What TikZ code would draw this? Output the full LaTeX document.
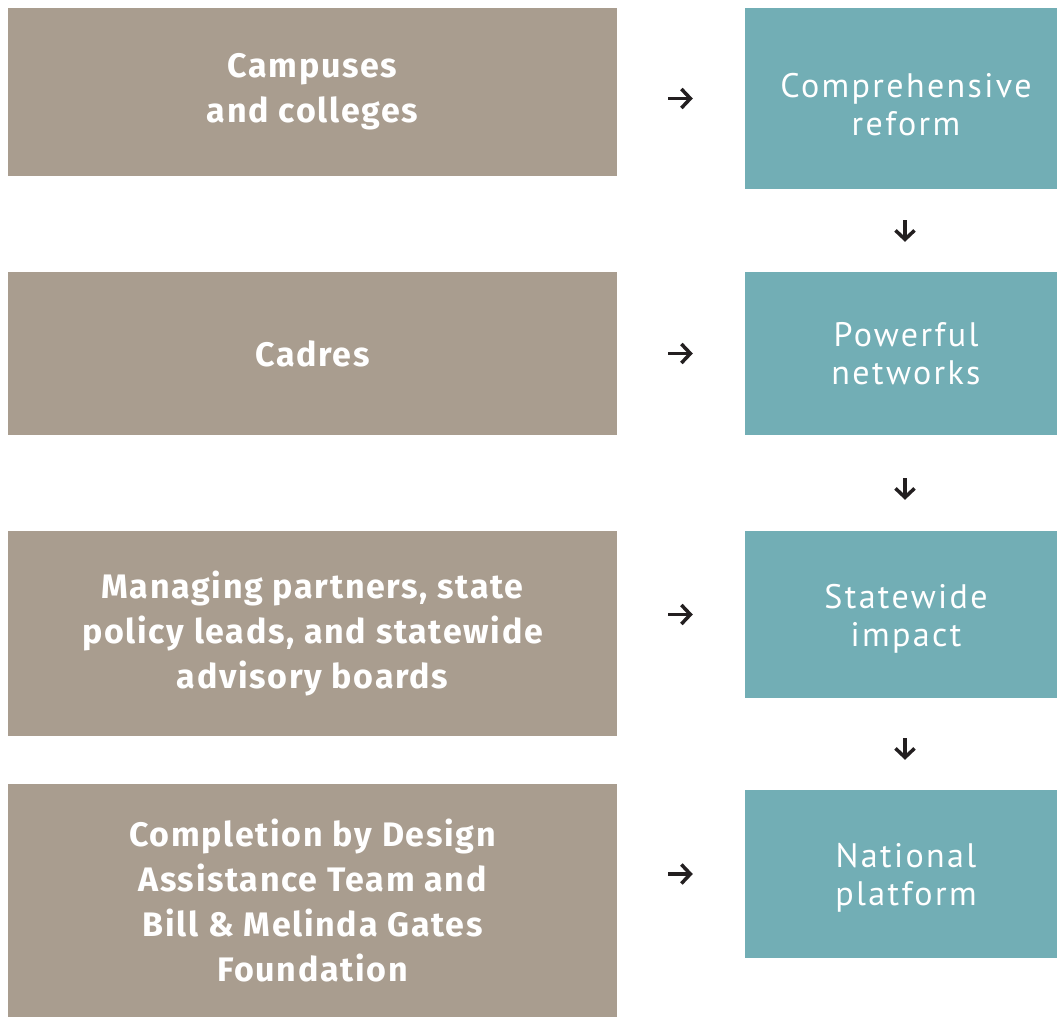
\documentclass[tikz,border=0pt]{standalone}
\usepackage{fontspec}
\usepackage{tikz}
\usetikzlibrary{arrows.meta}
\setmainfont{PT Sans}
\newfontfamily\headfont[LetterSpace=5]{Fira Sans}
\newfontfamily\stepfont[LetterSpace=7]{PT Sans}

\definecolor{taupe}{HTML}{A99D8F}
\definecolor{teal}{HTML}{72AEB5}
\definecolor{ink}{HTML}{231F20}

\tikzset{
  leftbox/.style={fill=taupe, text=white, inner sep=0pt, align=center,
    minimum width=609pt, font=\headfont\bfseries\fontsize{34}{45}\selectfont},
  rightbox/.style={fill=teal, inner sep=0pt, minimum width=312pt},
  righttext/.style={text=white, inner sep=0pt, align=center,
    font=\stepfont\fontsize{34}{38}\selectfont},
  arr/.style={ink, line width=3.5pt,
    -{Straight Barb[length=9pt,width=19pt,line width=3.5pt]}},
}

\begin{document}
\begin{tikzpicture}[x=1pt,y=-1pt]
\useasboundingbox (0,0) rectangle (1057,1017);
%% left column
\node[leftbox, minimum height=168pt] (l1) at (312.5,92) {Campuses\\and colleges};
\node[leftbox, minimum height=163pt] (l2) at (312.5,353.5) {Cadres};
\node[leftbox, minimum height=205pt] (l3) at (312.5,633.5) {Managing partners, state\\policy leads, and statewide\\advisory boards};
\node[leftbox, minimum height=233pt] (l4) at (312.5,900.5) {Completion by Design\\Assistance Team and\\Bill \& Melinda Gates\\Foundation};
%% right column
\node[rightbox, minimum height=181pt] (r1) at (901,98.5) {};
\node[rightbox, minimum height=163pt] (r2) at (901,353.5) {};
\node[rightbox, minimum height=167pt] (r3) at (901,614.5) {};
\node[rightbox, minimum height=168pt] (r4) at (901,874) {};
\node[righttext] (t1) at ([xshift=5pt,yshift=-6pt]r1.center) {Comprehensive\\reform};
\node[righttext] (t2) at ([xshift=5pt]r2.center) {Powerful\\networks};
\node[righttext] (t3) at ([xshift=5pt,yshift=-4pt]r3.center) {Statewide\\impact};
\node[righttext] (t4) at ([xshift=5pt,yshift=-4pt]r4.center) {National\\platform};
%% across
\foreach \i in {1,...,4}
  \draw[arr, shorten <=51pt, shorten >=52pt] (l\i.east |- r\i) -- (r\i.west);
%% down
\draw[arr, shorten <=31pt, shorten >=30pt] ([xshift=4pt]r1.south) -- ([xshift=4pt]r2.north);
\draw[arr, shorten <=43pt, shorten >=31pt] ([xshift=4pt]r2.south) -- ([xshift=4pt]r3.north);
\draw[arr, shorten <=40pt, shorten >=30pt] ([xshift=4pt]r3.south) -- ([xshift=4pt]r4.north);
\end{tikzpicture}
\end{document}
